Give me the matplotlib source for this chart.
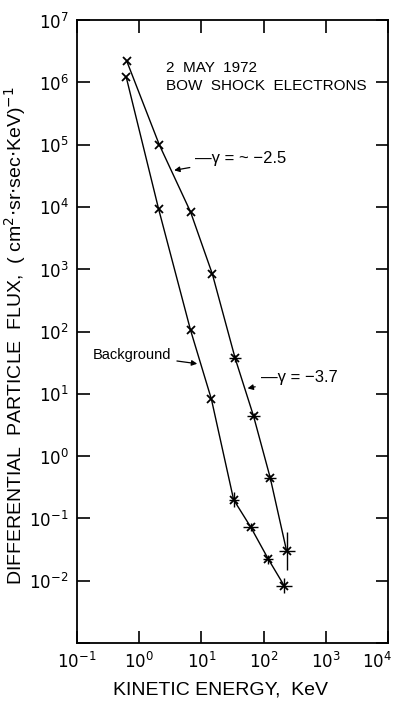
import numpy as np
import matplotlib.pyplot as plt
from matplotlib.transforms import ScaledTranslation

# Спектр электронов (верхняя кривая) и фон (нижняя)
e_bow = [0.63, 2.1, 6.7, 15, 35, 69, 128, 235]
f_bow = [2.2e6, 1.0e5, 8.3e3, 8.4e2, 37, 4.4, 0.45, 0.03]
e_bg = [0.62, 2.05, 6.7, 14.5, 33, 62, 120, 215]
f_bg = [1.2e6, 9.3e3, 105, 8.2, 0.2, 0.073, 0.022, 0.0083]

# Погрешности (в декадах) для точек с крестами
dx_bow = [0, 0, 0, 0, 0.1, 0.1, 0.1, 0.13]
dy_bow = [0, 0, 0, 0, 0.05, 0.05, 0.05, 0.3]
dx_bg = [0, 0, 0, 0, 0.08, 0.12, 0.08, 0.13]
dy_bg = [0, 0, 0, 0, 0.12, 0.07, 0.07, 0.12]

plt.rcParams['font.family'] = ['Liberation Sans', 'DejaVu Sans']

fig = plt.figure(figsize=(3.95, 7.02), dpi=100)
ax = fig.add_axes([0.195, 0.084, 0.787, 0.8875])


def err(v, d):
    v = np.array(v)
    d = np.array(d)
    return [v - v / 10**d, v * 10**d - v]


for e, f, dx, dy in [(e_bow, f_bow, dx_bow, dy_bow), (e_bg, f_bg, dx_bg, dy_bg)]:
    ax.plot(e, f, color='black', lw=1.0)
    ax.errorbar(e, f, xerr=err(e, dx), yerr=err(f, dy), fmt='x', color='black',
                ms=6, mew=1.3, elinewidth=1.0, capsize=0)

ax.set_xscale('log')
ax.set_yscale('log')
ax.set_xlim(1e-1, 1e4)
ax.set_ylim(1e-3, 1e7)
ax.set_xticks([10.0**k for k in range(-1, 5)])
ax.set_xticklabels([r'$10^{%d}$' % k for k in range(-1, 5)])
ax.set_yticks([10.0**k for k in range(-3, 8)])
ax.set_yticklabels(['' if k == -3 else r'$10^{%d}$' % k for k in range(-3, 8)])
ax.minorticks_off()
ax.tick_params(direction='in', length=9, width=1.2, labelsize=12,
               top=True, right=True, pad=6)
for s in ax.spines.values():
    s.set_linewidth(1.3)

# последняя подпись по X сдвинута влево, чтобы не обрезалась
lab = ax.get_xticklabels()[-1]
lab.set_transform(lab.get_transform() + ScaledTranslation(-8 / 72, 0, fig.dpi_scale_trans))

ax.set_xlabel('KINETIC ENERGY,  KeV', fontsize=14)
ax.xaxis.set_label_coords(0.463, -0.062)
ax.set_ylabel(r'DIFFERENTIAL  PARTICLE  FLUX,  ( cm$^2$$\cdot$sr$\cdot$sec$\cdot$KeV)$^{-1}$',
              fontsize=14)
ax.yaxis.set_label_coords(-0.158, 0.494)

ax.text(2.7, 1.2e6, '2  MAY  1972\nBOW  SHOCK  ELECTRONS', fontsize=11,
        va='center', ha='left', linespacing=1.35)

arrow = dict(arrowstyle='-|>', color='black', lw=0.9, mutation_scale=8)
ax.annotate('—γ = ~ −2.5', xy=(3.3, 3.8e4), xytext=(8.0, 6.0e4),
            fontsize=12, va='center', arrowprops=arrow)
ax.annotate('Background', xy=(9.5, 30), xytext=(0.18, 42),
            fontsize=10.5, va='center', arrowprops=arrow)
ax.annotate('—γ = −3.7', xy=(50, 12), xytext=(90, 18),
            fontsize=12, va='center', arrowprops=arrow)

fig.savefig('out.png', dpi=100)
